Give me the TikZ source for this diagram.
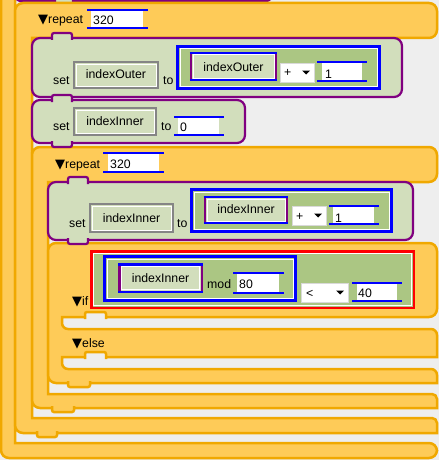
\documentclass[tikz,border=0pt]{standalone}
\usepackage{fontspec}
\setmainfont{Liberation Sans}
\newfontfamily\symfont{DejaVu Sans}
\definecolor{canvas}{HTML}{EEEEEE}
\definecolor{ctrlfill}{HTML}{FECB58}
\definecolor{ctrledge}{HTML}{F0A800}
\definecolor{varfill}{HTML}{D2DEBC}
\definecolor{varedge}{HTML}{800080}
\definecolor{mathfill}{HTML}{ABC683}
\definecolor{getedge}{HTML}{858585}
\newcommand\blkarrow{{\symfont\fontsize{13}{13}\selectfont ▼}}
\tikzset{
  yblock/.style={fill=ctrlfill, draw=ctrledge, line width=2.5pt},
  ytab/.style={yblock, rounded corners=2pt},
  slotnotch/.style={fill=canvas, draw=ctrledge, line width=2.5pt, rounded corners=2pt},
  vblock/.style={fill=varfill, draw=varedge, line width=2.2pt},
  vtab/.style={vblock, rounded corners=2pt},
  mathbox/.style={fill=mathfill, draw=blue, line width=3pt},
  cmpbox/.style={fill=mathfill, draw=red, line width=2.5pt},
  getbox/.style={fill=varfill, draw=getedge, line width=2.5pt},
  argbox/.style={fill=varfill, draw=varedge, line width=2.5pt},
  argcap/.style={draw=blue, line width=2.5pt},
  rim/.style={draw=white, line width=1pt},
  numline/.style={draw=blue, line width=2.2pt},
  dropbox/.style={fill=white, draw=black!15, line width=0.8pt},
  lbl/.style={font=\fontsize{12.3}{14}\selectfont, inner sep=0pt, anchor=base west},
  clbl/.style={lbl, anchor=base}
}
\begin{document}
\begin{tikzpicture}[x=1pt,y=-1pt]
\useasboundingbox (0,0) rectangle (439,460);
\clip (0,0) rectangle (439,460);
\fill[canvas] (0,0) rectangle (439,460);

\filldraw[yblock] (1,-10) [rounded corners=8pt] -- (1,458) -- (437,458) -- (437,443) [sharp corners] -- (15,443) [rounded corners=5pt] -- (15,-10) [sharp corners] -- cycle;
\filldraw[vblock] (15,-10) [rounded corners=6pt] -- (15,1) -- (272,1) -- (272,-10);
\filldraw[vtab] (55,-2) -- (55,5) -- (73,5) -- (73,-2);

\filldraw[yblock] (15,30) [rounded corners=8pt] -- (15,3) -- (437,3) -- (437,38) [sharp corners] -- (32,38) -- (32,418) [rounded corners=5pt] -- (437,418) [sharp corners] -- (437,433) [rounded corners=8pt] -- (15,433) -- cycle;
\filldraw[ytab] (37,431) -- (37,437) -- (57,437) -- (57,431);
\node[lbl] (rptA) at (38,24) {\blkarrow repeat};
\fill[white] (91,11) rectangle (143,27);
\draw[numline] (87,10) -- (148,10) (87,28) -- (148,28);
\node[lbl] (cntA) at (93,25) {320};

\filldraw[vblock, rounded corners=8pt] (32,38) rectangle (402,97);
\filldraw[vtab] (52,40) -- (52,33) -- (72,33) -- (72,40);
\node[lbl] (setA) at (53,84) {set};
\filldraw[getbox] (74,62) rectangle (158,88);
\draw[rim] (76,64) rectangle (156,86);
\node[clbl] (varA) at (116,78) {indexOuter};
\node[lbl] (toA) at (163,84) {to};
\filldraw[mathbox] (177.5,46.5) rectangle (379.5,88.5);
\draw[rim] (180,49) rectangle (377,86);
\filldraw[argbox] (191,53) rectangle (276,80);
\draw[argcap] (189.75,53) -- (277.25,53) (189.75,80) -- (277.25,80);
\draw[rim] (193,55) rectangle (274,78);
\node[clbl] (varB) at (233.5,71.5) {indexOuter};
\filldraw[dropbox] (280,63) rectangle (314,82);
\node[lbl] (opA) at (284,77) {+};
\fill (302,70.5) -- (310,70.5) -- (306,74.5) -- cycle;
\fill[white] (322,63) rectangle (362,80);
\draw[numline] (317,62) -- (367,62) (317,81) -- (367,81);
\node[lbl] (numA) at (325,78) {1};

\filldraw[vblock, rounded corners=8pt] (32,100) rectangle (245,143);
\filldraw[vtab] (52,102) -- (52,95) -- (72,95) -- (72,102);
\node[lbl] (setB) at (53,130) {set};
\filldraw[getbox] (74,108) rectangle (156,135);
\draw[rim] (76,110) rectangle (154,133);
\node[clbl] (varC) at (115,125) {indexInner};
\node[lbl] (toB) at (161,130) {to};
\fill[white] (178,118) rectangle (219,134);
\draw[numline] (174,117) -- (224,117) (174,135) -- (224,135);
\node[lbl] (numB) at (180,131) {0};

\filldraw[yblock] (32,160) [rounded corners=8pt] -- (32,147) -- (437,147) -- (437,182) [sharp corners] -- (48,182) -- (48,394) [rounded corners=5pt] -- (437,394) [sharp corners] -- (437,408) [rounded corners=8pt] -- (32,408) -- cycle;
\filldraw[ytab] (52,406) -- (52,412) -- (74,412) -- (74,406);
\filldraw[vtab] (52,141) -- (52,147) -- (72,147) -- (72,141);
\node[lbl] (rptB) at (55,168) {\blkarrow repeat};
\fill[white] (108,154) rectangle (159,171);
\draw[numline] (103,153) -- (164,153) (103,172) -- (164,172);
\node[lbl] (cntB) at (110,168) {320};

\filldraw[vblock, rounded corners=8pt] (48,182) rectangle (413,240);
\filldraw[vtab] (68,184) -- (68,177) -- (88,177) -- (88,184);
\node[lbl] (setC) at (69,227) {set};
\filldraw[getbox] (90,204) rectangle (173,232);
\draw[rim] (92,206) rectangle (171,230);
\node[clbl] (varD) at (131.5,222) {indexInner};
\node[lbl] (toC) at (177,227) {to};
\filldraw[mathbox] (191.5,189.5) rectangle (391.5,231.5);
\draw[rim] (194,192) rectangle (389,229);
\filldraw[argbox] (205,197) rectangle (287,223);
\draw[argcap] (203.75,197) -- (288.25,197) (203.75,223) -- (288.25,223);
\draw[rim] (207,199) rectangle (285,221);
\node[clbl] (varE) at (246,213) {indexInner};
\filldraw[dropbox] (292,206) rectangle (326,225);
\node[lbl] (opB) at (296,220) {+};
\fill (314,213.5) -- (322,213.5) -- (318,217.5) -- cycle;
\fill[white] (333,207) rectangle (374,223);
\draw[numline] (329,206) -- (379,206) (329,224) -- (379,224);
\node[lbl] (numC) at (335,222) {1};

\filldraw[yblock] (48,260) [rounded corners=8pt] -- (48,243) -- (437,243) -- (437,317) [sharp corners] -- (62,317) [rounded corners=6pt] -- (62,329) -- (437,329) [sharp corners] -- (437,357) -- (62,357) [rounded corners=6pt] -- (62,369) -- (437,369) [sharp corners] -- (437,383) [rounded corners=8pt] -- (48,383) -- cycle;
\filldraw[slotnotch] (85,319) -- (85,312) -- (106,312) -- (106,319);
\filldraw[slotnotch] (85,359) -- (85,352) -- (106,352) -- (106,359);
\filldraw[ytab] (68,381) -- (68,387) -- (90,387) -- (90,381);
\filldraw[vtab] (68,238) -- (68,244) -- (88,244) -- (88,238);
\node[lbl] (ifA) at (72,305) {\blkarrow if};
\node[lbl] (elseA) at (72,347) {\blkarrow else};
\filldraw[cmpbox] (91.25,251.25) rectangle (413.75,307.75);
\draw[rim] (93.5,253.5) rectangle (411.5,305.5);
\filldraw[mathbox] (104.5,256.5) rectangle (295.5,300.5);
\draw[rim] (107,259) rectangle (293,298);
\filldraw[argbox] (119.25,264.25) rectangle (201.75,291.75);
\draw[argcap] (118,264.25) -- (203,264.25) (118,291.75) -- (203,291.75);
\draw[rim] (121.5,266.5) rectangle (199.5,289.5);
\node[clbl] (varF) at (160.5,282) {indexInner};
\node[lbl] (modA) at (207,288) {mod};
\fill[white] (237,274) rectangle (279,292);
\draw[numline] (233,273) -- (284,273) (233,293) -- (284,293);
\node[lbl] (numD) at (239,288) {80};
\filldraw[dropbox] (301,283) rectangle (348,302);
\node[lbl] (opC) at (306,297) {<};
\fill (336,290.5) -- (344,290.5) -- (340,294.5) -- cycle;
\fill[white] (357,284) rectangle (397,300);
\draw[numline] (352,283) -- (402,283) (352,301) -- (402,301);
\node[lbl] (numE) at (358,297) {40};
\end{tikzpicture}
\end{document}
